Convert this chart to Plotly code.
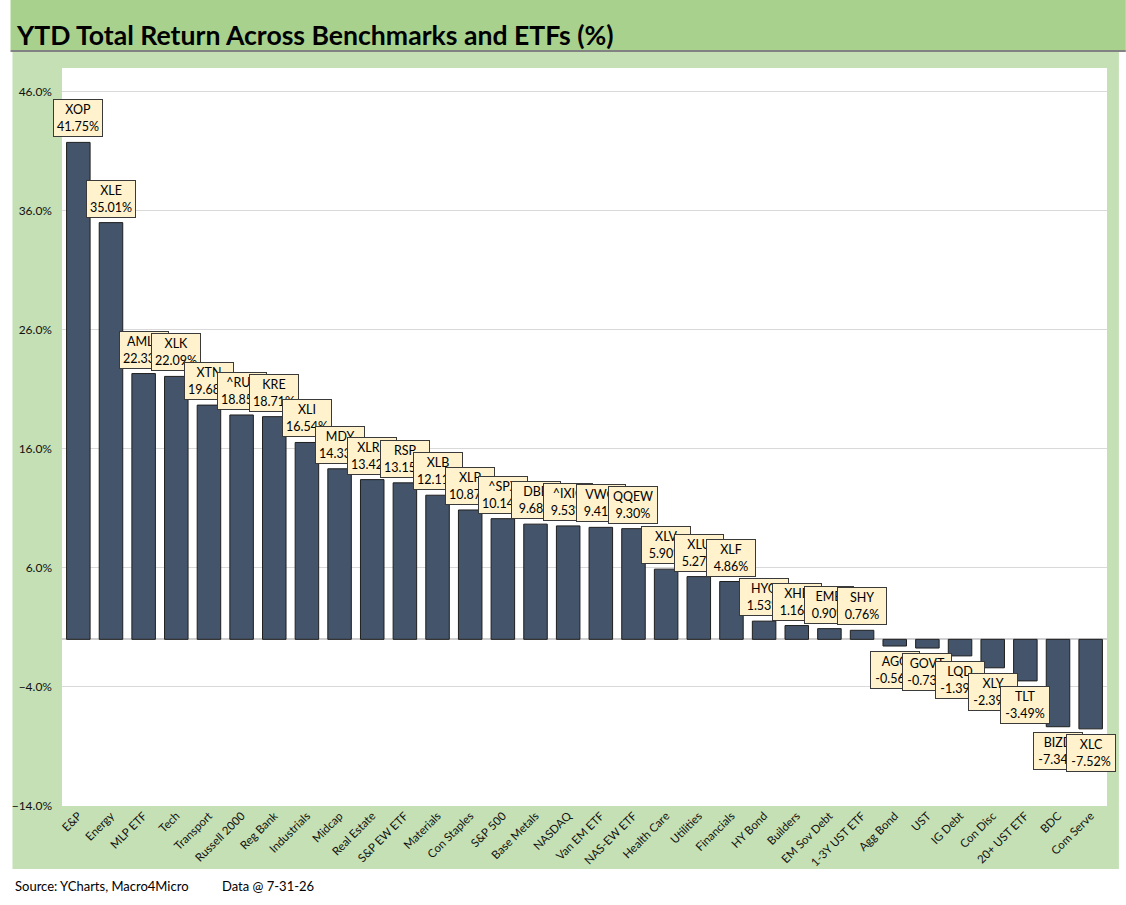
import plotly.graph_objects as go

categories = ["E&P", "Energy", "MLP ETF", "Tech", "Transport", "Russell 2000", "Reg Bank",
              "Industrials", "Midcap", "Real Estate", "S&P EW ETF", "Materials", "Con Staples",
              "S&P 500", "Base Metals", "NASDAQ", "Van EM ETF", "NAS-EW ETF", "Health Care",
              "Utilities", "Financials", "HY Bond", "Builders", "EM Sov Debt", "1-3Y UST ETF",
              "Agg Bond", "UST", "IG Debt", "Con Disc", "20+ UST ETF", "BDC", "Com Serve"]
tickers = ["XOP", "XLE", "AMLP", "XLK", "XTN", "^RUT", "KRE", "XLI", "MDY", "XLRE", "RSP",
           "XLB", "XLP", "^SPX", "DBB", "^IXIC", "VWO", "QQEW", "XLV", "XLU", "XLF", "HYG",
           "XHB", "EMB", "SHY", "AGG", "GOVT", "LQD", "XLY", "TLT", "BIZD", "XLC"]
returns = [41.75, 35.01, 22.33, 22.09, 19.68, 18.85, 18.71, 16.54, 14.33, 13.42, 13.15,
           12.11, 10.87, 10.14, 9.68, 9.53, 9.41, 9.30, 5.90, 5.27, 4.86, 1.53, 1.16, 0.90,
           0.76, -0.56, -0.73, -1.39, -2.39, -3.49, -7.34, -7.52]

W, H = 1126, 905
L, R, T, B = 52, 1107, 68, 806  # plot area in pixels


def px(x):
    return (x - L) / (R - L)


def py(y):
    return (B - y) / (B - T)


fig = go.Figure()
fig.add_trace(go.Bar(x=list(range(len(categories))), y=returns,
                     marker=dict(color="#44546a", line=dict(color="#1f1f1f", width=1)),
                     width=0.72, hoverinfo="x+y"))

# background panels
shapes = [
    dict(type="rect", xref="paper", yref="paper", x0=px(0), x1=px(W), y0=py(0), y1=py(50),
         fillcolor="#a9d18e", line=dict(width=0), layer="below"),
    dict(type="line", xref="paper", yref="paper", x0=px(0), x1=px(W), y0=py(51), y1=py(51),
         line=dict(color="#595959", width=1.5), layer="below"),
    dict(type="rect", xref="paper", yref="paper", x0=px(2), x1=px(1119), y0=py(52), y1=py(869),
         fillcolor="#c5e0b4", line=dict(width=0), layer="below"),
    dict(type="rect", xref="paper", yref="paper", x0=0, x1=1, y0=0, y1=1,
         fillcolor="white", line=dict(width=0), layer="below"),
]

annotations = [
    dict(text="<b>YTD Total Return Across Benchmarks and ETFs (%)</b>", xref="paper", yref="paper",
         x=px(4), y=py(35), xanchor="left", yanchor="middle", showarrow=False,
         font=dict(size=26.6, color="black", family="Lato")),
    dict(text="Source: YCharts, Macro4Micro", xref="paper", yref="paper",
         x=px(3), y=py(886), xanchor="left", yanchor="middle", showarrow=False,
         font=dict(size=13, color="black")),
    dict(text="Data @ 7-31-26", xref="paper", yref="paper",
         x=px(212), y=py(886), xanchor="left", yanchor="middle", showarrow=False,
         font=dict(size=13, color="black")),
]

for i, (t, v) in enumerate(zip(tickers, returns)):
    annotations.append(dict(
        x=i, y=v, xref="x", yref="y", text=f"{t}<br>{v:.2f}%", showarrow=False,
        yanchor="bottom" if v >= 0 else "top", yshift=5 if v >= 0 else -5,
        bgcolor="#fff2cc", bordercolor="#3a3a3a", borderwidth=1, borderpad=2,
        width=44, height=32, font=dict(size=12.5, color="black")))

fig.update_layout(
    width=W, height=H,
    margin=dict(l=L, r=W - R, t=T, b=H - B),
    paper_bgcolor="white", plot_bgcolor="white",
    font=dict(family="Lato", color="black"),
    showlegend=False,
    shapes=shapes, annotations=annotations,
    xaxis=dict(tickmode="array", tickvals=list(range(len(categories))), ticktext=categories,
               tickangle=-45, tickfont=dict(size=11.5, color="#111"), range=[-0.5, len(categories) - 0.5],
               showgrid=False, ticks="", showline=False),
    yaxis=dict(range=[-14, 48], tick0=-14, dtick=10, tickformat=".1f", ticksuffix="%",
               tickfont=dict(size=12, color="#111"), gridcolor="#d9d9d9", zeroline=True,
               zerolinecolor="#d0d0d0", zerolinewidth=1.5, showline=False, ticklabelstandoff=9),
)

fig.write_html("out.html", config={"displayModeBar": False},
               post_script="document.body.style.margin='0';")
